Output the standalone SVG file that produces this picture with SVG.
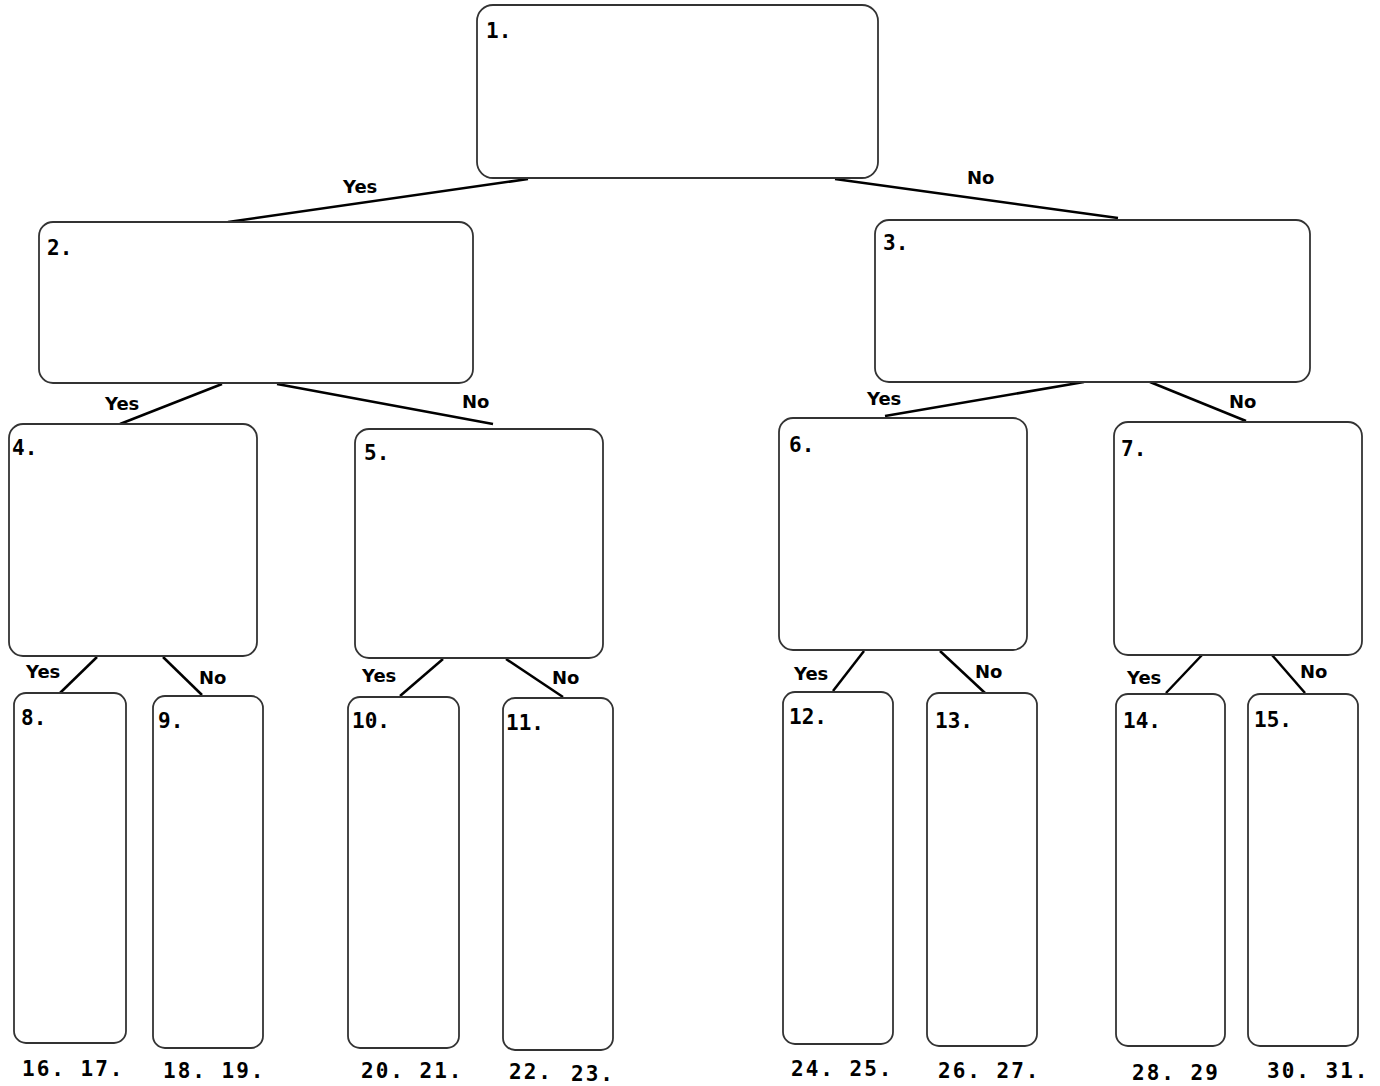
<svg xmlns="http://www.w3.org/2000/svg" width="1380" height="1086" viewBox="0 0 1380 1086">
<style>
.box{fill:#fff;stroke:#333;stroke-width:1.8}
.num{font-family:"DejaVu Sans Mono","Liberation Mono",monospace;font-weight:bold;font-size:21px;fill:#000}
.lbl{font-family:"DejaVu Sans","Noto Sans",sans-serif;font-weight:bold;font-size:18px;fill:#000}
.con line{stroke:#000;stroke-width:2.5}
.foot{font-family:"DejaVu Sans Mono","Liberation Mono",monospace;font-weight:bold;font-size:21px;fill:#000;letter-spacing:2px}
</style>
<rect width="1380" height="1086" fill="#fff"/>
<g id="connectors" class="con">
<line x1="528" y1="179" x2="228" y2="222"/>
<line x1="835" y1="179" x2="1118" y2="218"/>
<line x1="222" y1="384" x2="120" y2="424"/>
<line x1="277" y1="384" x2="493" y2="424"/>
<line x1="1084" y1="382" x2="885" y2="416"/>
<line x1="1150" y1="382" x2="1246" y2="421"/>
<line x1="97" y1="657" x2="60" y2="693"/>
<line x1="163" y1="657" x2="202" y2="695"/>
<line x1="443" y1="659" x2="400" y2="696"/>
<line x1="506" y1="659" x2="563" y2="697"/>
<line x1="864" y1="651" x2="833" y2="691"/>
<line x1="940" y1="651" x2="985" y2="693"/>
<line x1="1202" y1="655" x2="1166" y2="693"/>
<line x1="1272" y1="655" x2="1305" y2="693"/>
</g>
<g id="edge-labels">
<text class="lbl" x="343" y="193">Yes</text>
<text class="lbl" x="967" y="184">No</text>
<text class="lbl" x="105" y="410">Yes</text>
<text class="lbl" x="462" y="408">No</text>
<text class="lbl" x="867" y="405">Yes</text>
<text class="lbl" x="1229" y="408">No</text>
<text class="lbl" x="26" y="678">Yes</text>
<text class="lbl" x="199" y="684">No</text>
<text class="lbl" x="362" y="682">Yes</text>
<text class="lbl" x="552" y="684">No</text>
<text class="lbl" x="794" y="680">Yes</text>
<text class="lbl" x="975" y="678">No</text>
<text class="lbl" x="1127" y="684">Yes</text>
<text class="lbl" x="1300" y="678">No</text>
</g>
<g id="n1"><rect class="box" x="477" y="5" width="401" height="173" rx="16"/><text class="num" x="486" y="38">1.</text></g>
<g id="n2"><rect class="box" x="39" y="222" width="434" height="161" rx="14"/><text class="num" x="47" y="255">2.</text></g>
<g id="n3"><rect class="box" x="875" y="220" width="435" height="162" rx="14"/><text class="num" x="883" y="250">3.</text></g>
<g id="n4"><rect class="box" x="9" y="424" width="248" height="232" rx="14"/><text class="num" x="12" y="455">4.</text></g>
<g id="n5"><rect class="box" x="355" y="429" width="248" height="229" rx="14"/><text class="num" x="364" y="460">5.</text></g>
<g id="n6"><rect class="box" x="779" y="418" width="248" height="232" rx="14"/><text class="num" x="789" y="452">6.</text></g>
<g id="n7"><rect class="box" x="1114" y="422" width="248" height="233" rx="14"/><text class="num" x="1121" y="456">7.</text></g>
<g id="n8"><rect class="box" x="14" y="693" width="112" height="350" rx="12"/><text class="num" x="21" y="725">8.</text></g>
<g id="n9"><rect class="box" x="153" y="696" width="110" height="352" rx="12"/><text class="num" x="158" y="728">9.</text></g>
<g id="n10"><rect class="box" x="348" y="697" width="111" height="351" rx="12"/><text class="num" x="352" y="728">10.</text></g>
<g id="n11"><rect class="box" x="503" y="698" width="110" height="352" rx="12"/><text class="num" x="506" y="730">11.</text></g>
<g id="n12"><rect class="box" x="783" y="692" width="110" height="352" rx="12"/><text class="num" x="789" y="724">12.</text></g>
<g id="n13"><rect class="box" x="927" y="693" width="110" height="353" rx="12"/><text class="num" x="935" y="728">13.</text></g>
<g id="n14"><rect class="box" x="1116" y="694" width="109" height="352" rx="12"/><text class="num" x="1123" y="728">14.</text></g>
<g id="n15"><rect class="box" x="1248" y="694" width="110" height="352" rx="12"/><text class="num" x="1254" y="727">15.</text></g>
<g id="footer">
<text class="foot" x="22" y="1076">16. 17.</text>
<text class="foot" x="163" y="1078">18. 19.</text>
<text class="foot" x="361" y="1078">20. 21.</text>
<text class="foot" x="509" y="1079">22.</text>
<text class="foot" x="571" y="1081">23.</text>
<text class="foot" x="791" y="1076">24. 25.</text>
<text class="foot" x="938" y="1078">26. 27.</text>
<text class="foot" x="1132" y="1080">28. 29</text>
<text class="foot" x="1267" y="1078">30. 31.</text>
</g>
</svg>
